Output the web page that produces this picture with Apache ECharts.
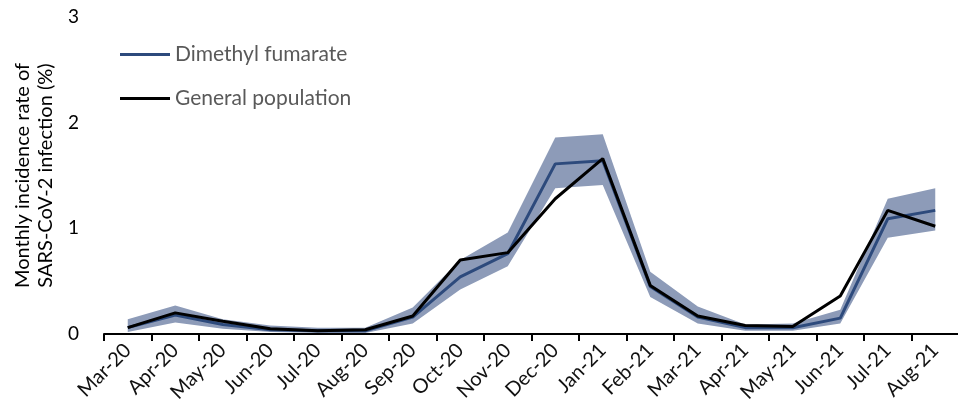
<!DOCTYPE html>
<html><head><meta charset="utf-8">
<script src="https://cdn.jsdelivr.net/npm/echarts@6/dist/echarts.min.js"></script>
<style>html,body{margin:0;padding:0;background:#fff}#c{width:958px;height:402px}</style>
</head><body><div id="c"></div>
<script>
const months = ['Mar-20','Apr-20','May-20','Jun-20','Jul-20','Aug-20','Sep-20','Oct-20','Nov-20','Dec-20','Jan-21','Feb-21','Mar-21','Apr-21','May-21','Jun-21','Jul-21','Aug-21'];
const dmf = [0.06,0.18,0.09,0.04,0.03,0.03,0.16,0.54,0.76,1.61,1.64,0.45,0.16,0.06,0.06,0.15,1.09,1.17];
const dmfLower = [0.02,0.11,0.05,0.02,0.01,0.01,0.10,0.42,0.64,1.38,1.41,0.35,0.10,0.03,0.03,0.10,0.91,0.98];
const dmfUpper = [0.14,0.27,0.14,0.08,0.06,0.06,0.25,0.70,0.96,1.86,1.89,0.59,0.26,0.09,0.10,0.23,1.28,1.38];
const general = [0.06,0.20,0.12,0.05,0.03,0.04,0.17,0.70,0.77,1.28,1.66,0.46,0.17,0.08,0.07,0.36,1.17,1.02];
const yTicks = [0,1,2,3];

const bandDiff = dmfUpper.map((u,i)=>+(u-dmfLower[i]).toFixed(3));
const font = 'Lato, "Open Sans", sans-serif';
const chart = echarts.init(document.getElementById('c'));
chart.setOption({
  animation:false,
  grid:{left:104,right:-1,top:17,bottom:68,outerBoundsMode:'none',containLabel:false},
  legend:{
    left:120, top:44, orient:'vertical', itemGap:23, padding:0,
    itemWidth:50, itemHeight:3, icon:'rect',
    textStyle:{fontFamily:font,fontSize:21,color:'#595959'},
    data:['Dimethyl fumarate','General population']
  },
  xAxis:{
    type:'category', data:months, boundaryGap:true,
    axisLine:{lineStyle:{color:'#000',width:2}},
    axisTick:{show:true,length:7,lineStyle:{color:'#000',width:2}},
    axisLabel:{rotate:45,fontFamily:font,fontSize:20,color:'#111',margin:13}
  },
  yAxis:{
    type:'value', min:yTicks[0], max:yTicks[yTicks.length-1], interval:1,
    axisLine:{show:false}, axisTick:{show:false}, splitLine:{show:false},
    axisLabel:{fontFamily:font,fontSize:19,color:'#000',margin:25},
    name:'Monthly incidence rate of\nSARS-CoV-2 infection (%)',
    nameLocation:'middle', nameGap:46, nameRotate:90,
    nameTextStyle:{fontFamily:font,fontSize:20,color:'#000',lineHeight:23}
  },
  series:[
    {name:'lower',type:'line',data:dmfLower,stack:'band',symbol:'none',lineStyle:{opacity:0},silent:true},
    {name:'band',type:'line',data:bandDiff,stack:'band',symbol:'none',lineStyle:{opacity:0},
     areaStyle:{color:'#8d9bb8',opacity:1},silent:true},
    {name:'Dimethyl fumarate',type:'line',data:dmf,symbol:'none',
     lineStyle:{color:'#2d4a7c',width:3},itemStyle:{color:'#2d4a7c'}},
    {name:'General population',type:'line',data:general,symbol:'none',
     lineStyle:{color:'#000',width:3},itemStyle:{color:'#000'}}
  ]
});
</script></body></html>
